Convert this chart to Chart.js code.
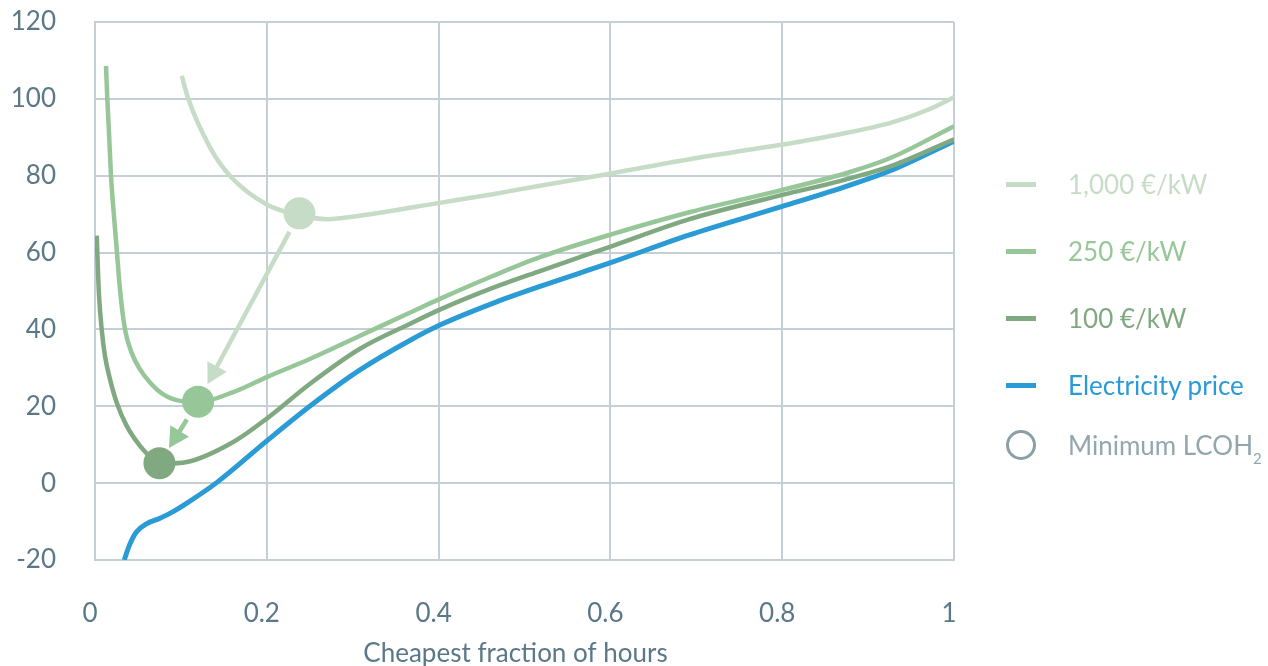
<!DOCTYPE html>
<html>
<head>
<meta charset="utf-8">
<script src="https://cdn.jsdelivr.net/npm/chart.js@4/dist/chart.umd.min.js"></script>
<style>
  html, body { margin: 0; padding: 0; background: #ffffff; }
  #wrap { position: relative; width: 1268px; height: 666px; overflow: hidden; font-family: Lato, "Open Sans", sans-serif; }
  #c { position: absolute; left: 0; top: 0; }
  .leg { position: absolute; left: 1006px; height: 26px; display: flex; align-items: center; font-size: 26px; line-height: 26px; white-space: nowrap; }
  .leg .swatch { width: 30px; height: 5px; margin-right: 32px; }
  .leg .ring { width: 24px; height: 24px; border: 3px solid #8b9fa9; border-radius: 50%; margin-right: 32px; box-sizing: content-box; }
  .leg sub { font-size: 15px; vertical-align: -9px; line-height: 0; }
</style>
</head>
<body>
<div id="wrap">
  <canvas id="c" width="1268" height="666"></canvas>
  <div id="legend"></div>
</div>
<script>
// Levelised cost of hydrogen versus the cheapest fraction of hours run,
// for three electrolyser capex levels, plus the electricity price curve.
const xTicks = [0, 0.2, 0.4, 0.6, 0.8, 1];
const yTicks = [-20, 0, 20, 40, 60, 80, 100, 120];

const capex1000X = [0.101, 0.1086, 0.134, 0.157, 0.2, 0.238, 0.27, 0.308, 0.403, 0.463, 0.518, 0.601, 0.692, 0.8, 0.867, 0.928, 0.967, 1.0];
const capex1000Y = [106.0, 100.0, 87.3, 80.0, 72.5, 69.7, 68.7, 69.6, 73.0, 75.2, 77.4, 80.6, 84.3, 88.1, 90.8, 93.9, 96.9, 100.4];

const capex250X = [0.0128, 0.0143, 0.0163, 0.0186, 0.0218, 0.0253, 0.0291, 0.0349, 0.0427, 0.0524, 0.064, 0.0795, 0.099, 0.12, 0.161, 0.2, 0.25, 0.308, 0.367, 0.404, 0.463, 0.518, 0.602, 0.692, 0.8, 0.878, 0.928, 1.0];
const capex250Y = [108.6, 100.1, 91.1, 80.1, 70.3, 60.8, 50.4, 40.0, 33.9, 29.6, 26.2, 23.1, 21.4, 21.1, 23.7, 27.6, 32.3, 38.3, 44.4, 48.2, 53.9, 58.8, 64.8, 70.5, 76.3, 80.9, 84.8, 92.9];

const capex100X = [0.002, 0.0031, 0.0047, 0.0078, 0.0116, 0.0175, 0.0252, 0.0369, 0.0524, 0.0679, 0.08, 0.107, 0.161, 0.2, 0.25, 0.308, 0.367, 0.404, 0.463, 0.518, 0.602, 0.692, 0.8, 0.867, 0.928, 1.0];
const capex100Y = [64.4, 57.3, 48.7, 40.0, 33.1, 27.0, 21.0, 14.9, 9.7, 6.2, 5.1, 5.5, 10.7, 16.8, 25.8, 34.9, 41.5, 45.4, 50.8, 55.2, 61.7, 68.7, 75.0, 78.6, 82.6, 89.5];

const priceX = [0.034, 0.04, 0.048, 0.06, 0.075, 0.091, 0.107, 0.142, 0.2, 0.25, 0.308, 0.367, 0.404, 0.463, 0.518, 0.602, 0.692, 0.8, 0.878, 0.928, 1.0];
const priceY = [-20, -16.2, -12.8, -10.6, -9.2, -7.4, -5.2, 0.2, 11, 20, 29.4, 37.2, 41.4, 46.8, 51.2, 57.5, 64.6, 72, 77.5, 81.5, 89];

// Minimum LCOH2 for each capex level (1,000 / 250 / 100 €/kW)
const minX = [0.238, 0.12, 0.075];
const minY = [70.2, 21.2, 5.2];

const seriesNames = ['1,000 €/kW', '250 €/kW', '100 €/kW', 'Electricity price'];
const seriesColors = ['#c6dcc6', '#97c698', '#80a982', '#2b9bd6'];
const axisTitle = 'Cheapest fraction of hours';

const ink = '#5a7888';
const gridColor = '#c5cfd6';
const fontFamily = 'Lato, "Open Sans", sans-serif';

const toPoints = (xs, ys) => xs.map((x, i) => ({ x: x, y: ys[i] }));

function lineSet(label, xs, ys, color, width, order) {
  return {
    label: label,
    data: toPoints(xs, ys),
    borderColor: color,
    backgroundColor: color,
    borderWidth: width,
    pointRadius: 0,
    fill: false,
    cubicInterpolationMode: 'monotone',
    order: order
  };
}

const markerSets = minX.map((x, i) => ({
  label: 'Minimum LCOH2',
  data: [{ x: x, y: minY[i] }],
  showLine: false,
  pointRadius: 16,
  pointHoverRadius: 16,
  pointBorderWidth: 0,
  pointBackgroundColor: seriesColors[i],
  borderColor: seriesColors[i],
  order: 0
}));

// Arrows joining consecutive minima, shortened at both ends
const arrowStyle = { startGap: 21, endGaps: [20, 18], head: 20, halfWidth: 11, width: 4.5 };

const arrowPlugin = {
  id: 'minArrows',
  afterDatasetsDraw(chart) {
    const { ctx, scales } = chart;
    ctx.save();
    for (let i = 0; i < minX.length - 1; i++) {
      const x0 = scales.x.getPixelForValue(minX[i]);
      const y0 = scales.y.getPixelForValue(minY[i]);
      const x1 = scales.x.getPixelForValue(minX[i + 1]);
      const y1 = scales.y.getPixelForValue(minY[i + 1]);
      const len = Math.hypot(x1 - x0, y1 - y0);
      const ux = (x1 - x0) / len, uy = (y1 - y0) / len;
      const sx = x0 + ux * arrowStyle.startGap, sy = y0 + uy * arrowStyle.startGap;
      const tx = x1 - ux * arrowStyle.endGaps[i], ty = y1 - uy * arrowStyle.endGaps[i];
      const bx = tx - ux * arrowStyle.head, by = ty - uy * arrowStyle.head;
      const color = seriesColors[i];
      ctx.strokeStyle = color;
      ctx.fillStyle = color;
      ctx.lineWidth = arrowStyle.width;
      ctx.lineCap = 'butt';
      ctx.beginPath();
      ctx.moveTo(sx, sy);
      ctx.lineTo(bx + ux * 2, by + uy * 2);
      ctx.stroke();
      ctx.beginPath();
      ctx.moveTo(tx, ty);
      ctx.lineTo(bx - uy * arrowStyle.halfWidth, by + ux * arrowStyle.halfWidth);
      ctx.lineTo(bx + uy * arrowStyle.halfWidth, by - ux * arrowStyle.halfWidth);
      ctx.closePath();
      ctx.fill();
    }
    ctx.restore();
  }
};

// x-axis title, set slightly left of the plot centre
const titlePlugin = {
  id: 'xTitle',
  afterDraw(chart) {
    const { ctx, chartArea } = chart;
    ctx.save();
    ctx.font = '26px ' + fontFamily;
    ctx.fillStyle = ink;
    ctx.textAlign = 'center';
    ctx.textBaseline = 'alphabetic';
    ctx.fillText(axisTitle, (chartArea.left + chartArea.right) / 2 - 9, chartArea.bottom + 102);
    ctx.restore();
  }
};

const fmt = v => String(Math.round(v * 10) / 10);

new Chart(document.getElementById('c'), {
  type: 'line',
  data: {
    datasets: [
      ...markerSets,
      lineSet(seriesNames[1], capex250X, capex250Y, seriesColors[1], 4.5, 1),
      lineSet(seriesNames[2], capex100X, capex100Y, seriesColors[2], 4.5, 2),
      lineSet(seriesNames[3], priceX, priceY, seriesColors[3], 5, 3),
      lineSet(seriesNames[0], capex1000X, capex1000Y, seriesColors[0], 4.5, 4)
    ]
  },
  options: {
    responsive: false,
    devicePixelRatio: 1,
    animation: false,
    events: [],
    layout: { padding: { top: 22, right: 314, bottom: 0, left: 0 } },
    plugins: { legend: { display: false }, tooltip: { enabled: false } },
    scales: {
      x: {
        type: 'linear',
        min: xTicks[0],
        max: xTicks[xTicks.length - 1],
        afterBuildTicks(scale) { scale.ticks = xTicks.map(v => ({ value: v })); },
        afterFit(scale) {
          scale.height = 106;
          scale.paddingLeft = 0;
          scale.paddingRight = 0;
        },
        grid: { color: gridColor, lineWidth: 2, drawTicks: false },
        border: { color: gridColor, width: 2 },
        ticks: {
          color: ink,
          font: { family: fontFamily, size: 26 },
          padding: 38,
          labelOffset: -5,
          maxRotation: 0,
          callback: fmt
        }
      },
      y: {
        type: 'linear',
        min: yTicks[0],
        max: yTicks[yTicks.length - 1],
        afterBuildTicks(scale) { scale.ticks = yTicks.map(v => ({ value: v })); },
        afterFit(scale) {
          scale.width = 95;
          scale.paddingTop = 0;
          scale.paddingBottom = 0;
        },
        grid: { color: gridColor, lineWidth: 2, drawTicks: false },
        border: { color: gridColor, width: 2 },
        ticks: {
          color: ink,
          font: { family: fontFamily, size: 26 },
          padding: 39,
          callback: fmt
        }
      }
    }
  },
  plugins: [arrowPlugin, titlePlugin]
});

// Legend at the right of the plot
const legendRows = [184, 251, 318, 385];
const legend = document.getElementById('legend');
seriesNames.forEach((name, i) => {
  const row = document.createElement('div');
  row.className = 'leg';
  row.style.top = (legendRows[i] - 13) + 'px';
  row.style.color = seriesColors[i];
  const sw = document.createElement('span');
  sw.className = 'swatch';
  sw.style.background = seriesColors[i];
  const tx = document.createElement('span');
  tx.textContent = name;
  row.appendChild(sw);
  row.appendChild(tx);
  legend.appendChild(row);
});
const minRow = document.createElement('div');
minRow.className = 'leg';
minRow.style.top = (445 - 13) + 'px';
minRow.style.color = '#92a6b0';
minRow.innerHTML = '<span class="ring"></span><span>Minimum LCOH<sub>2</sub></span>';
legend.appendChild(minRow);
</script>
</body>
</html>
